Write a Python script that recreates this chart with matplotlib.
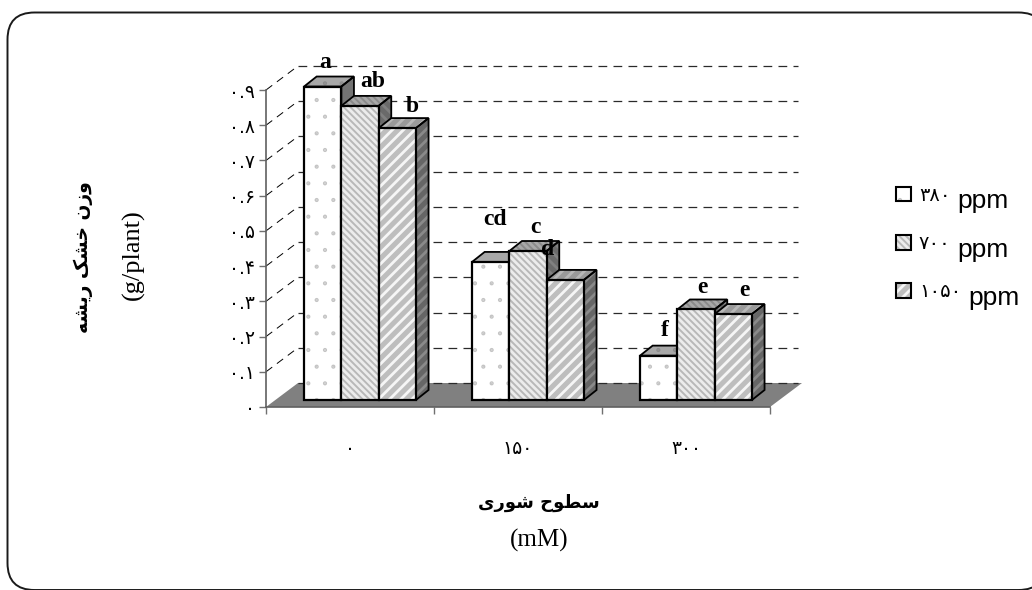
import matplotlib
matplotlib.use("Agg")
import matplotlib.pyplot as plt
import matplotlib.hatch as mhatch
from matplotlib.patches import FancyBboxPatch, Patch, Polygon
from matplotlib.legend_handler import HandlerTuple
from matplotlib.text import Annotation

# ---- data ----
categories = ["\u06f0", "\u06f1\u06f5\u06f0", "\u06f3\u06f0\u06f0"]
series_names = ["\u06f3\u06f8\u06f0", "\u06f7\u06f0\u06f0", "\u06f1\u06f0\u06f5\u06f0"]
unit = "ppm"
co2_380 = [0.89, 0.392, 0.126]
co2_700 = [0.835, 0.423, 0.257]
co2_1050 = [0.772, 0.341, 0.244]
letters_380 = ["a", "cd", "f"]
letters_700 = ["ab", "c", "e"]
letters_1050 = ["b", "d", "e"]
ytick_values = [0.0, 0.1, 0.2, 0.3, 0.4, 0.5, 0.6, 0.7, 0.8, 0.9]
ytick_labels = ["\u06f0", "\u06f0.\u06f1", "\u06f0.\u06f2", "\u06f0.\u06f3", "\u06f0.\u06f4",
                "\u06f0.\u06f5", "\u06f0.\u06f6", "\u06f0.\u06f7", "\u06f0.\u06f8", "\u06f0.\u06f9"]
ylabel_fa = "\ufeea\ufeb8\ufbfe\ufead \ufb8f\ufeb8\ufea7 \ufee5\ufeaf\ufeed"
ylabel_unit = "(g/plant)"
xlabel_fa = "\ufbfc\ufead\ufeee\ufeb7 \ufea1\ufeee\ufec4\ufeb3"
xlabel_unit = "(mM)"

# ---- layout (pixels of the 1032x590 canvas) ----
W, H = 1032, 590
AX_L, AX_R, AX_B, AX_T = 266, 770, 407, 90
PX_X = 3 / (AX_R - AX_L)          # data units per pixel, x
PX_Y = 0.9 / (AX_B - AX_T)        # data units per pixel, y
WALL_DX, WALL_DY = 32 * PX_X, 24 * PX_Y
FRONT_DX, FRONT_DY = 10 * PX_X, 7 * PX_Y
BAR_DX, BAR_DY = 12.6 * PX_X, 10 * PX_Y
BAR_W = 37.3 * PX_X
LABEL_OFFSETS = {   # pixel offset of each significance letter from its bar's top centre
    0: [(2, 24), (4, 42), (6, 25)],
    1: [(13, 24), (7, 24), (6, 22)],
    2: [(15, 22), (-18, 30), (11, 24)],
}
STYLES = [
    dict(face="white", hatch_col="#c4c4c4", hatch=".", top="#a8a8a8", top_h="#8c8c8c",
         side="#737373", side_h="#737373"),
    dict(face="#b8b8b8", hatch_col="#ececec", hatch="\\\\\\\\\\", top="#8a8a8a", top_h="#a8a8a8",
         side="#6a6a6a", side_h="#808080"),
    dict(face="#bebebe", hatch_col="#f6f6f6", hatch="///", top="#9a9a9a", top_h="#b8b8b8",
         side="#666666", side_h="#8a8a8a"),
]
plt.rcParams["hatch.linewidth"] = 2.0
mhatch.SmallFilledCircles.size = 0.04
SERIF = "Liberation Serif"

fig = plt.figure(figsize=(W / 100, H / 100), dpi=100, facecolor="white")

# pixel-space background: rounded frame and axis titles
bg = fig.add_axes([0, 0, 1, 1])
bg.set_xlim(0, W)
bg.set_ylim(H, 0)
bg.axis("off")
bg.add_patch(FancyBboxPatch((7.5, 12.5), 1038, 577.5, boxstyle="round,pad=0,rounding_size=27",
                            fc="white", ec="#1a1a1a", lw=1.4, clip_on=True))
bg.text(83, 257, ylabel_fa, rotation=90, ha="center", va="center", fontsize=13.5,
        fontweight="bold", family="DejaVu Sans")
bg.text(133, 255, ylabel_unit, rotation=90, ha="center", va="center", fontsize=19, family=SERIF)
bg.text(539, 503, xlabel_fa, ha="center", va="center", fontsize=13,
        fontweight="bold", family="DejaVu Sans")
bg.text(539, 540, xlabel_unit, ha="center", va="center", fontsize=18, family=SERIF)

# main axes: the front plane of the 3-D box
ax = fig.add_axes([AX_L / W, 1 - AX_B / H, (AX_R - AX_L) / W, (AX_B - AX_T) / H])
ax.patch.set_alpha(0)
ax.set_xlim(0, len(categories))
ax.set_ylim(0, 0.9)
for s in ("top", "right"):
    ax.spines[s].set_visible(False)
for s in ("left", "bottom"):
    ax.spines[s].set_color("#606060")
    ax.spines[s].set_linewidth(1.2)
ax.set_yticks(ytick_values, ytick_labels, fontsize=13.5, family="DejaVu Sans")
ax.set_xticks(range(len(categories) + 1), [""] * (len(categories) + 1))
ax.set_xticks([i + 0.5 for i in range(len(categories))], categories, minor=True,
              fontsize=13.5, family="DejaVu Sans")
ax.tick_params(axis="y", length=5, width=1, color="#707070", pad=3)
ax.tick_params(axis="x", which="major", length=5, width=1, color="#707070")
ax.tick_params(axis="x", which="minor", length=0, pad=23)

n = len(categories)
# floor
ax.add_patch(Polygon([(0, 0), (n, 0), (n + WALL_DX, WALL_DY), (WALL_DX, WALL_DY)],
                     fc="#808080", ec="none", clip_on=False, zorder=1))
# back and side wall gridlines
for v in ytick_values:
    if v > 0:
        ax.plot([0, WALL_DX], [v, v + WALL_DY], color="black", lw=0.7, ls=(0, (8, 6)),
                clip_on=False, zorder=1.5)
    ax.plot([WALL_DX, n + WALL_DX - 4 * PX_X], [v + WALL_DY, v + WALL_DY], color="#2a2a2a",
            lw=0.9, ls=(0, (7, 5)), clip_on=False, zorder=1.5)

# bars
series = [co2_380, co2_700, co2_1050]
letters = [letters_380, letters_700, letters_1050]
z = 2.0
for c in range(n):
    x0 = c + 0.5 - 1.5 * BAR_W + FRONT_DX
    for s, values in enumerate(series):
        st = STYLES[s]
        v = values[c]
        left = x0 + s * BAR_W
        right = left + BAR_W
        base = FRONT_DY
        top = base + v
        side_pts = [(right, base), (right + BAR_DX, base + BAR_DY),
                    (right + BAR_DX, top + BAR_DY), (right, top)]
        top_pts = [(left, top), (right, top), (right + BAR_DX, top + BAR_DY),
                   (left + BAR_DX, top + BAR_DY)]
        hatch_side = "\\\\\\" if s == 1 else ("///" if s == 2 else None)
        for pts, fc, hc, h in ((side_pts, st["side"], st["side_h"], hatch_side),
                               (top_pts, st["top"], st["top_h"], st["hatch"])):
            ax.add_patch(Polygon(pts, fc=fc, ec=hc, hatch=h, lw=0, clip_on=False, zorder=z))
            ax.add_patch(Polygon(pts, fc="none", ec="black", lw=1.3, clip_on=False,
                                 joinstyle="miter", zorder=z + 0.01))
        ax.bar(left, v, BAR_W, bottom=base, align="edge", color=st["face"],
               edgecolor=st["hatch_col"], hatch=st["hatch"], lw=0, clip_on=False, zorder=z + 0.02)
        ax.bar(left, v, BAR_W, bottom=base, align="edge", fc="none", ec="black", lw=1.6,
               clip_on=False, zorder=z + 0.03)
        dx, dy = LABEL_OFFSETS[s][c]
        ax.annotate(letters[s][c], (left + BAR_W / 2, top), xytext=(dx * 0.72, dy * 0.72),
                    textcoords="offset points", ha="center", va="center", fontsize=17,
                    fontweight="bold", family=SERIF, annotation_clip=False, zorder=20)
        z += 0.1

# legend
handles = []
for st in STYLES:
    handles.append((Patch(fc=st["face"], ec=st["hatch_col"], hatch=st["hatch"], lw=0),
                    Patch(fc="none", ec="black", lw=1.5)))
leg = fig.legend(handles, series_names, handler_map={tuple: HandlerTuple(ndivide=1, pad=0)},
                 loc="upper left", bbox_to_anchor=(896 / W, 1 - 186 / H), frameon=False,
                 handlelength=0.77, handleheight=0.77, handletextpad=0.41,
                 labelspacing=1.5, borderpad=0, borderaxespad=0,
                 prop=dict(family="DejaVu Sans", size=14))
fig.canvas.draw()
for t in leg.get_texts():
    fig.add_artist(Annotation(unit, xy=(1, 0), xycoords=t, xytext=(5, -2.5), textcoords="offset points",
                              ha="left", va="baseline", fontsize=19, family="Liberation Sans",
                              zorder=30, annotation_clip=False))

fig.savefig("out.png", dpi=100)
